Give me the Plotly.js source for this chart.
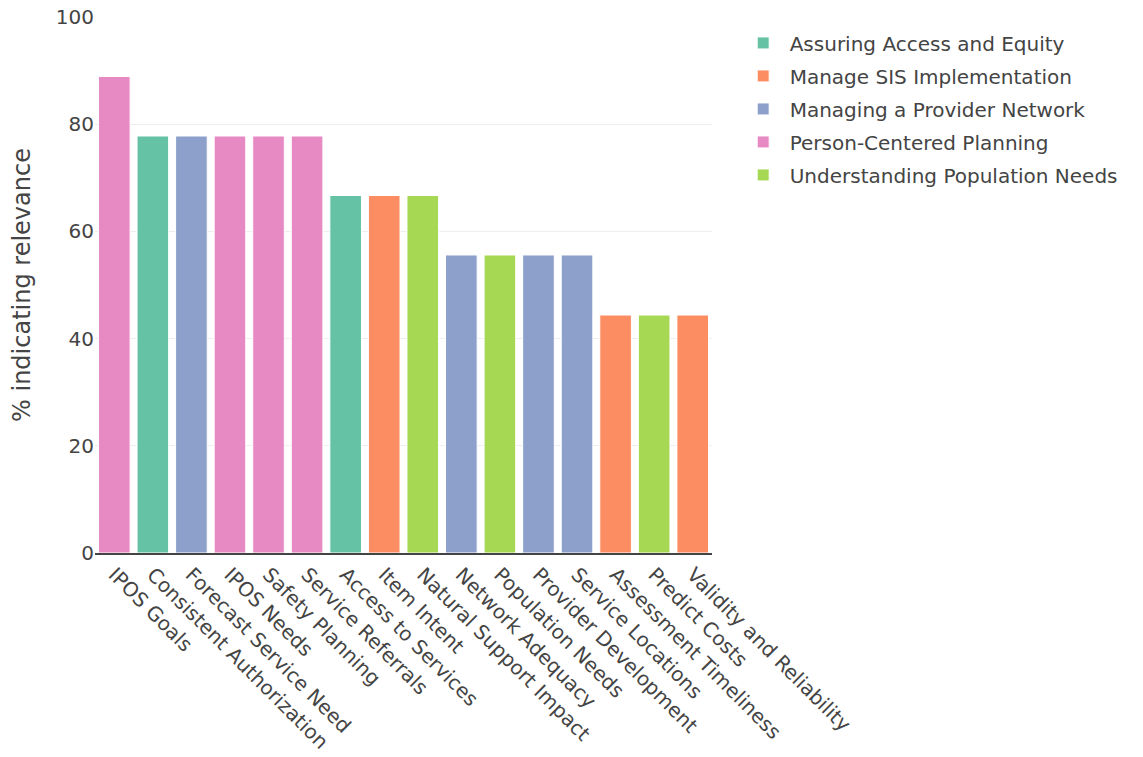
<!DOCTYPE html>
<html>
<head>
<meta charset="utf-8">
<script src="https://cdn.plot.ly/plotly-3.0.1.min.js"></script>
<style>html,body{margin:0;padding:0;background:#fff;}#chart{width:1143px;height:757px;}</style>
</head>
<body>
<div id="chart"></div>
<script>
const categories = ["IPOS Goals","Consistent Authorization","Forecast Service Need","IPOS Needs","Safety Planning","Service Referrals","Access to Services","Item Intent","Natural Support Impact","Network Adequacy","Population Needs","Provider Development","Service Locations","Assessment Timeliness","Predict Costs","Validity and Reliability"];
const values = [88.9,77.8,77.8,77.8,77.8,77.8,66.7,66.7,66.7,55.6,55.6,55.6,55.6,44.4,44.4,44.4];
const groupOf = ["Person-Centered Planning","Assuring Access and Equity","Managing a Provider Network","Person-Centered Planning","Person-Centered Planning","Person-Centered Planning","Assuring Access and Equity","Manage SIS Implementation","Understanding Population Needs","Managing a Provider Network","Understanding Population Needs","Managing a Provider Network","Managing a Provider Network","Manage SIS Implementation","Understanding Population Needs","Manage SIS Implementation"];
const groups = ["Assuring Access and Equity","Manage SIS Implementation","Managing a Provider Network","Person-Centered Planning","Understanding Population Needs"];
const colors = ["#66c2a5","#fc8d62","#8da0cb","#e78ac3","#a6d854"];
const yTicks = [0,20,40,60,80,100];

const traces = groups.map((g, gi) => {
  const xs = [], ys = [];
  categories.forEach((c, i) => { if (groupOf[i] === g) { xs.push(c); ys.push(values[i]); } });
  return {
    type: 'bar', name: g, x: xs, y: ys,
    legendgroup: 'g' + gi,
    marker: {color: colors[gi], line: {color: '#ffffff', width: 1}}
  };
});

const layout = {
  width: 1143, height: 757,
  margin: {l: 95, r: 431, t: 17, b: 204},
  font: {family: 'DejaVu Sans, Verdana, sans-serif', size: 20, color: '#444'},
  barmode: 'relative',
  bargap: 0.18,
  paper_bgcolor: '#fff', plot_bgcolor: '#fff',
  showlegend: true,
  legend: {x: 1.04, y: 0.988, xanchor: 'left', yanchor: 'top', tracegroupgap: 4, itemwidth: 43, font: {size: 20, color: '#444'}},
  xaxis: {
    type: 'category', categoryorder: 'array', categoryarray: categories,
    tickangle: 45, showgrid: false, showline: true, linecolor: '#444', linewidth: 2,
    tickfont: {size: 20, color: '#444'}
  },
  yaxis: {
    range: [0, 100], tickvals: yTicks, ticktext: yTicks.map(String),
    gridcolor: '#eeeeee', gridwidth: 1, zeroline: false,
    tickfont: {size: 20, color: '#444'},
    title: {text: '% indicating relevance', font: {size: 24, color: '#444'}, standoff: 18}
  }
};

Plotly.newPlot('chart', traces, layout, {displayModeBar: false, staticPlot: true});
</script>
</body>
</html>
